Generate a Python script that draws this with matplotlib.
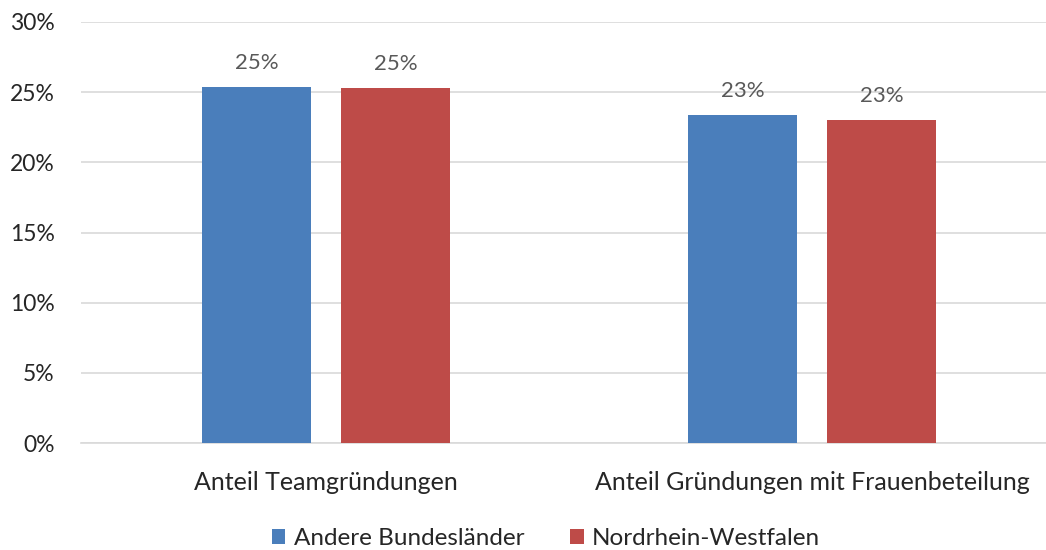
import numpy as np
import matplotlib.pyplot as plt
from matplotlib.ticker import PercentFormatter

# Daten
kategorien = ["Anteil Teamgründungen", "Anteil Gründungen mit Frauenbeteilung"]
andere = [25.4, 23.4]
nrw = [25.3, 23.0]
labels_andere = ["25%", "23%"]
labels_nrw = ["25%", "23%"]
serien = ["Andere Bundesländer", "Nordrhein-Westfalen"]

plt.rcParams['font.family'] = ['Lato', 'DejaVu Sans']

fig = plt.figure(figsize=(10.46, 5.5), dpi=100)
ax = fig.add_axes([81 / 1046, 1 - 443 / 550, 965 / 1046, 421 / 550])

x = np.arange(len(kategorien))
w = 0.224
off = 0.143
b1 = ax.bar(x - off, andere, w, color='#4A7EBB', label=serien[0], zorder=3)
b2 = ax.bar(x + off, nrw, w, color='#BE4B48', label=serien[1], zorder=3)

for bars, labs in ((b1, labels_andere), (b2, labels_nrw)):
    for b, t in zip(bars, labs):
        ax.annotate(t, (b.get_x() + b.get_width() / 2, b.get_height()),
                    xytext=(0, 10), textcoords='offset points',
                    ha='center', va='bottom', fontsize=16, color='#595959')

ax.set_ylim(0, 30)
ax.set_xlim(-0.504, 1.481)
ax.set_yticks(np.arange(0, 31, 5))
ax.yaxis.set_major_formatter(PercentFormatter(decimals=0))
ax.set_xticks(x)
ax.set_xticklabels(kategorien)
ax.tick_params(axis='y', length=0, labelsize=16.5, colors='#262626', pad=19)
ax.tick_params(axis='x', length=0, labelsize=18, colors='#262626', pad=20)
ax.grid(axis='y', color='#D9D9D9', linewidth=1.2, zorder=0)
for s in ['top', 'right', 'left']:
    ax.spines[s].set_visible(False)
ax.spines['bottom'].set_color('#D9D9D9')
ax.spines['bottom'].set_linewidth(1.2)

fig.legend(loc='lower center', bbox_to_anchor=(0.522, -0.038), ncol=2, frameon=False,
           fontsize=17.5, handlelength=0.55, handleheight=0.55, handletextpad=0.35,
           columnspacing=1.9, labelcolor='#262626')

fig.savefig('out.png', dpi=100)
